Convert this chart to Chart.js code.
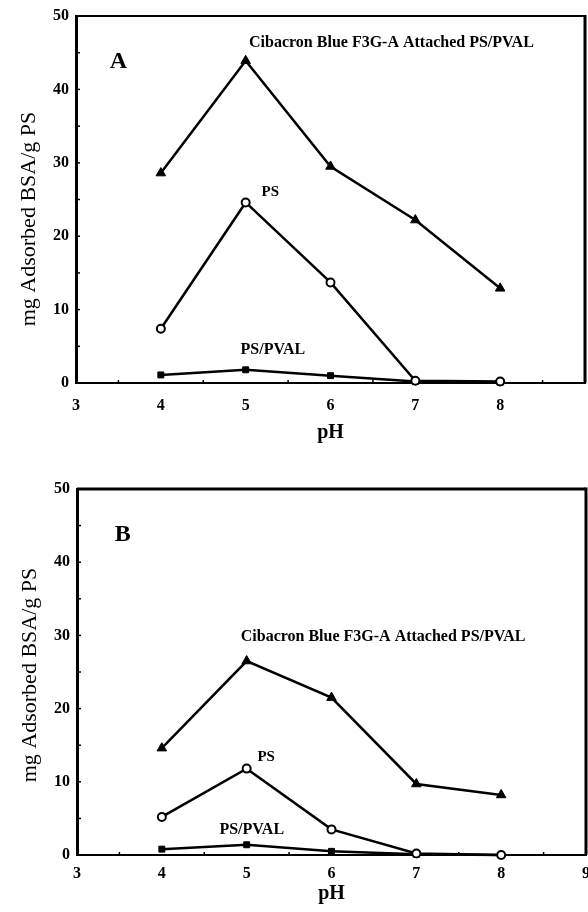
<!DOCTYPE html>
<html><head><meta charset="utf-8">
<script src="https://cdn.jsdelivr.net/npm/chart.js@4/dist/chart.umd.min.js"></script>
<style>
html,body{margin:0;padding:0;background:#fff;}
#wrap{position:relative;width:588px;height:912px;overflow:hidden;}
.c{position:absolute;left:0;width:588px;}
</style></head><body>
<div id="wrap">
<div class="c" style="top:0;height:450px"><canvas id="chartA"></canvas></div>
<div class="c" style="top:450px;height:462px"><canvas id="chartB"></canvas></div>
</div>
<script>
// ---------------- DATA ----------------
const phValues = [4, 5, 6, 7, 8];
const aCibacron = [28.6, 43.9, 29.5, 22.2, 12.9];
const aPS       = [7.4, 24.6, 13.7, 0.3, 0.2];
const aPSPVAL   = [1.1, 1.8, 1.0, 0.2, 0.1];
const bCibacron = [14.6, 26.5, 21.5, 9.7, 8.2];
const bPS       = [5.2, 11.8, 3.5, 0.2, 0.0];
const bPSPVAL   = [0.8, 1.4, 0.5, 0.1, 0.0];
const yTickValues = [0, 10, 20, 30, 40, 50];
const xTickLabelsA = ['3', '4', '5', '6', '7', '8', ''];
const xTickLabelsB = ['3', '4', '5', '6', '7', '8', '9'];
const seriesNames = ['Cibacron Blue F3G-A Attached PS/PVAL', 'PS', 'PS/PVAL'];
const panelNames = ['A', 'B'];
const yTitle = 'mg Adsorbed BSA/g PS';
const xTitle = 'pH';

// ---------------- STYLE / LAYOUT ----------------
const SERIF = "'Liberation Serif','Times New Roman',serif";
Chart.defaults.font.family = SERIF;
Chart.defaults.color = '#000';

function pts(vals) { return phValues.map((x, i) => ({x: x, y: vals[i]})); }

const annotPlugin = {
  id: 'annot',
  afterDatasetsDraw(chart, args, opts) {
    const {ctx, chartArea: ca, scales} = chart;
    ctx.save();
    ctx.strokeStyle = '#000';
    // top and right frame
    ctx.lineWidth = opts.topW;
    ctx.beginPath(); ctx.moveTo(ca.left, ca.top); ctx.lineTo(ca.right, ca.top); ctx.stroke();
    ctx.lineWidth = 3;
    ctx.beginPath(); ctx.moveTo(ca.right, ca.top - opts.topW / 2); ctx.lineTo(ca.right, ca.bottom); ctx.stroke();
    // minor inward ticks
    ctx.lineWidth = 1.5;
    for (let v = 5; v < 50; v += 5) {
      const y = scales.y.getPixelForValue(v);
      ctx.beginPath(); ctx.moveTo(ca.left, y); ctx.lineTo(ca.left + 4, y); ctx.stroke();
    }
    for (let v = 3.5; v < 9; v += 1) {
      const x = scales.x.getPixelForValue(v);
      ctx.beginPath(); ctx.moveTo(x, ca.bottom); ctx.lineTo(x, ca.bottom - 3); ctx.stroke();
    }
    // annotations
    ctx.fillStyle = '#000';
    ctx.textBaseline = 'middle';
    for (const a of opts.items) {
      ctx.font = a.font;
      ctx.textAlign = a.align;
      ctx.fillText(a.text, scales.x.getPixelForValue(a.x), scales.y.getPixelForValue(a.y));
    }
    // y title
    ctx.font = "22px " + SERIF;
    ctx.textAlign = 'center';
    ctx.translate(opts.yTitleX, opts.yTitleY);
    ctx.rotate(-Math.PI / 2);
    ctx.fillText(yTitle, 0, 0);
    ctx.restore();
  }
};

function makeChart(id, series, cfg) {
  const markerBase = {borderColor: '#000', borderWidth: 2.5, showLine: true, clip: false, tension: 0};
  return new Chart(document.getElementById(id), {
    type: 'scatter',
    data: {
      datasets: [
        Object.assign({}, markerBase, {label: seriesNames[1], data: pts(series[1]), pointStyle: 'circle', pointRadius: 4, pointBorderWidth: 2, pointBackgroundColor: '#fff', pointBorderColor: '#000'}),
        Object.assign({}, markerBase, {label: seriesNames[0], data: pts(series[0]), pointStyle: 'triangle', pointRadius: 5.5, pointBorderWidth: 1, pointBackgroundColor: '#000', pointBorderColor: '#000'}),
        Object.assign({}, markerBase, {label: seriesNames[2], data: pts(series[2]), pointStyle: 'rect', pointRadius: 4.2, pointBorderWidth: 1, pointBackgroundColor: '#000', pointBorderColor: '#000'})
      ]
    },
    options: {
      responsive: true, maintainAspectRatio: false, animation: false,
      layout: {autoPadding: false, padding: {top: cfg.padTop, right: cfg.padRight, left: 0, bottom: 0}},
      plugins: {legend: {display: false}, tooltip: {enabled: false}, annot: cfg.annot},
      elements: {point: {hoverRadius: 4}},
      scales: {
        x: {
          type: 'linear', min: 3, max: 9,
          afterFit: s => { s.height = cfg.xHeight; s.paddingLeft = 0; s.paddingRight = 0; },
          grid: {display: false, drawTicks: false},
          border: {display: true, color: '#000', width: 2},
          ticks: {stepSize: 1, padding: cfg.xTickPad, font: {size: 16, weight: 'bold'}, color: '#000',
                  maxRotation: 0, autoSkip: false,
                  callback: v => cfg.xLabels[Math.round(v - 3)]},
          title: {display: true, text: xTitle, font: {size: 20, weight: 'bold'}, color: '#000', padding: {top: 0, bottom: cfg.xTitlePad}}
        },
        y: {
          type: 'linear', min: 0, max: 50,
          afterFit: s => { s.width = cfg.yWidth; s.paddingTop = 0; s.paddingBottom = 0; },
          afterBuildTicks: s => { s.ticks = yTickValues.map(v => ({value: v})); },
          grid: {display: false, drawTicks: false},
          border: {display: true, color: '#000', width: 3},
          ticks: {padding: 7, font: {size: 16, weight: 'bold'}, color: '#000'}
        }
      }
    },
    plugins: [annotPlugin]
  });
}

const annBold = s => "bold " + s + "px " + SERIF;

makeChart('chartA', [aCibacron, aPS, aPSPVAL], {
  padTop: 16, padRight: 3, yWidth: 76, xHeight: 67, xTickPad: 13, xTitlePad: 5, xLabels: xTickLabelsA,
  annot: {
    topW: 2, yTitleX: 29, yTitleY: 219,
    items: [
      {text: panelNames[0], x: 3.5, y: 43.7, align: 'center', font: annBold(24)},
      {text: seriesNames[0], x: 5.04, y: 46.3, align: 'left', font: annBold(16)},
      {text: seriesNames[1], x: 5.29, y: 26.0, align: 'center', font: annBold(15)},
      {text: seriesNames[2], x: 5.32, y: 4.5, align: 'center', font: annBold(16)}
    ]
  }
});

makeChart('chartB', [bCibacron, bPS, bPSPVAL], {
  padTop: 39, padRight: 2, yWidth: 77, xHeight: 57, xTickPad: 9, xTitlePad: 6, xLabels: xTickLabelsB,
  annot: {
    topW: 3, yTitleX: 30, yTitleY: 225,
    items: [
      {text: panelNames[1], x: 3.54, y: 43.7, align: 'center', font: annBold(24)},
      {text: seriesNames[0], x: 4.93, y: 29.8, align: 'left', font: annBold(16)},
      {text: seriesNames[1], x: 5.23, y: 13.4, align: 'center', font: annBold(15)},
      {text: seriesNames[2], x: 5.06, y: 3.4, align: 'center', font: annBold(16)}
    ]
  }
});
</script>
</body></html>
